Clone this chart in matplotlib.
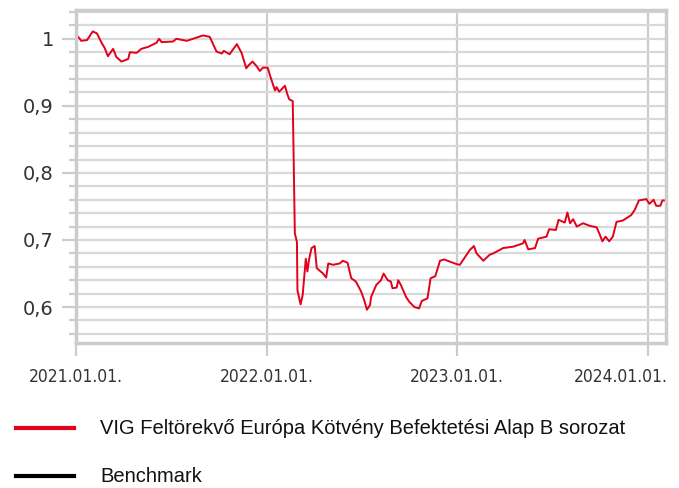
import numpy as np
import pandas as pd
import matplotlib
matplotlib.use("Agg")
import matplotlib.pyplot as plt
import matplotlib.transforms as mtrans
from matplotlib.lines import Line2D

# fund price index (start = 1)
dates = [
    "2021-01-01", "2021-01-05", "2021-01-11", "2021-01-22", "2021-02-02", "2021-02-10",
    "2021-02-19", "2021-02-25", "2021-03-03", "2021-03-13", "2021-03-19", "2021-03-29",
    "2021-04-11", "2021-04-14", "2021-04-27", "2021-05-06", "2021-05-19", "2021-06-04",
    "2021-06-09", "2021-06-14", "2021-07-06", "2021-07-12", "2021-08-01", "2021-08-13",
    "2021-09-01", "2021-09-14", "2021-09-27", "2021-10-07", "2021-10-11", "2021-10-22",
    "2021-11-05", "2021-11-14", "2021-11-23", "2021-11-28", "2021-12-05", "2021-12-13",
    "2021-12-19", "2021-12-25", "2022-01-03", "2022-01-08", "2022-01-17", "2022-01-20",
    "2022-01-25", "2022-02-05", "2022-02-09", "2022-02-13", "2022-02-20", "2022-02-24",
    "2022-02-28", "2022-03-01", "2022-03-07", "2022-03-11", "2022-03-17", "2022-03-20",
    "2022-03-23", "2022-03-28", "2022-04-03", "2022-04-07", "2022-04-19", "2022-04-25",
    "2022-04-29", "2022-05-08", "2022-05-21", "2022-05-27", "2022-06-05", "2022-06-12",
    "2022-06-21", "2022-07-01", "2022-07-07", "2022-07-12", "2022-07-18", "2022-07-20",
    "2022-07-30", "2022-08-08", "2022-08-13", "2022-08-21", "2022-08-27", "2022-08-30",
    "2022-09-07", "2022-09-10", "2022-09-15", "2022-09-25", "2022-10-01", "2022-10-11",
    "2022-10-20", "2022-10-25", "2022-11-05", "2022-11-11", "2022-11-20", "2022-11-29",
    "2022-12-07", "2022-12-17", "2022-12-31", "2023-01-06", "2023-01-19", "2023-01-25",
    "2023-02-02", "2023-02-07", "2023-02-20", "2023-03-04", "2023-03-11", "2023-03-30",
    "2023-04-18", "2023-05-07", "2023-05-10", "2023-05-17", "2023-05-30", "2023-06-05",
    "2023-06-21", "2023-06-26", "2023-07-09", "2023-07-14", "2023-07-26", "2023-07-31",
    "2023-08-05", "2023-08-11", "2023-08-18", "2023-08-30", "2023-09-12", "2023-09-25",
    "2023-10-01", "2023-10-06", "2023-10-12", "2023-10-19", "2023-10-26", "2023-11-02",
    "2023-11-14", "2023-11-30", "2023-12-07", "2023-12-15", "2023-12-29", "2024-01-04",
    "2024-01-12", "2024-01-17", "2024-01-25", "2024-01-29", "2024-02-05",
]
fund = [
    0.996, 1.003, 0.997, 0.998, 1.011, 1.008,
    0.994, 0.986, 0.974, 0.985, 0.973, 0.966,
    0.970, 0.980, 0.979, 0.985, 0.988, 0.994,
    1.000, 0.995, 0.996, 1.000, 0.997, 1.000,
    1.005, 1.003, 0.981, 0.978, 0.982, 0.977,
    0.992, 0.979, 0.956, 0.961, 0.966, 0.959,
    0.952, 0.957, 0.957, 0.944, 0.923, 0.928,
    0.921, 0.930, 0.919, 0.910, 0.907, 0.710,
    0.697, 0.625, 0.604, 0.618, 0.672, 0.653,
    0.670, 0.688, 0.691, 0.658, 0.650, 0.644,
    0.665, 0.663, 0.665, 0.669, 0.666, 0.643,
    0.638, 0.623, 0.610, 0.596, 0.603, 0.615,
    0.633, 0.640, 0.650, 0.640, 0.638, 0.628,
    0.629, 0.640, 0.633, 0.615, 0.608, 0.600,
    0.598, 0.609, 0.613, 0.643, 0.646, 0.669,
    0.671, 0.668, 0.664, 0.663, 0.678, 0.685,
    0.691, 0.680, 0.669, 0.678, 0.680, 0.688,
    0.690, 0.695, 0.700, 0.686, 0.688, 0.702,
    0.705, 0.716, 0.715, 0.730, 0.726, 0.741,
    0.725, 0.731, 0.720, 0.725, 0.721, 0.719,
    0.708, 0.698, 0.705, 0.698, 0.705, 0.727,
    0.729, 0.737, 0.745, 0.759, 0.761, 0.754,
    0.760, 0.751, 0.751, 0.759, 0.759,
]
xticks = ["2021-01-01", "2022-01-01", "2023-01-01", "2024-01-01"]
xtick_labels = ["2021.01.01.", "2022.01.01.", "2023.01.01.", "2024.01.01."]
yticks = [0.6, 0.7, 0.8, 0.9, 1.0]
ytick_labels = ["0,6", "0,7", "0,8", "0,9", "1"]
series_names = ["VIG Feltörekvő Európa Kötvény Befektetési Alap B sorozat", "Benchmark"]

red = "#e2001a"
grey = "#cccccc"

fig = plt.figure(figsize=(6.79, 4.88), dpi=100)
ax = fig.add_axes([0.112, 0.297, 0.869, 0.683])

ax.plot(pd.to_datetime(dates), fund, color=red, lw=1.4)

ax.set_xlim(pd.Timestamp("2021-01-01"), pd.Timestamp("2024-02-05"))
ax.set_ylim(0.5463, 1.0433)

ax.set_yticks(yticks)
ax.set_yticklabels(ytick_labels)
ax.set_yticks(np.arange(0.56, 1.041, 0.02), minor=True)
ax.set_xticks(pd.to_datetime(xticks))
ax.set_xticklabels(xtick_labels)

ax.grid(True, which="both", axis="y", color="#d9d9d9", lw=1.6)
ax.grid(True, which="major", axis="x", color=grey, lw=1.6)
ax.set_axisbelow(True)

for s in ax.spines.values():
    s.set_color(grey)
    s.set_linewidth(2.5)

ax.tick_params(axis="y", which="major", length=10, width=1.6, color=grey,
               labelsize=14, labelcolor="#333333", pad=6)
ax.tick_params(axis="y", which="minor", length=5, width=1.6, color=grey)
ax.tick_params(axis="x", which="major", length=9, width=1.6, color=grey,
               labelsize=12.5, labelcolor="#333333", pad=9)
for lab in ax.get_xticklabels() + ax.get_yticklabels():
    lab.set_fontfamily("DejaVu Sans")
for lab in ax.get_xticklabels():
    lab.set_fontstretch("condensed")
# last date label is pulled left so it stays inside the figure
last = ax.get_xticklabels()[-1]
last.set_transform(last.get_transform() +
                   mtrans.ScaledTranslation(-0.27, 0, fig.dpi_scale_trans))

# legend below the plot
legend_colors = [red, "black"]
legend_y = [1 - 428 / 488, 1 - 476 / 488]
for name, c, y in zip(series_names, legend_colors, legend_y):
    fig.add_artist(Line2D([16 / 679, 74 / 679], [y, y], color=c, lw=3,
                          transform=fig.transFigure))
    fig.text(100 / 679, y, name, ha="left", va="center", color="#111111",
             family="Liberation Sans", fontsize=14.5)

fig.savefig("out.png", dpi=100)
